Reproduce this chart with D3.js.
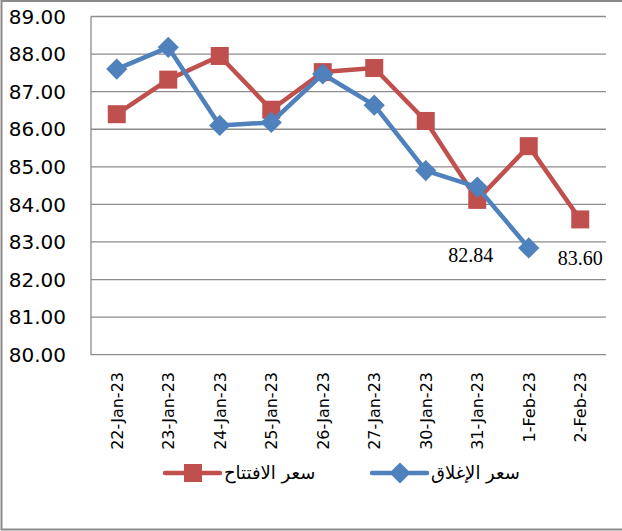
<!DOCTYPE html>
<html>
<head>
<meta charset="utf-8">
<script src="https://cdn.jsdelivr.net/npm/d3@7"></script>
<style>
  body { margin: 0; background: #fff; }
  svg { display: block; }
</style>
</head>
<body>
<svg width="622" height="531"></svg>
<script>
const dates = ["22-Jan-23", "23-Jan-23", "24-Jan-23", "25-Jan-23", "26-Jan-23",
               "27-Jan-23", "30-Jan-23", "31-Jan-23", "1-Feb-23", "2-Feb-23"];
const openPrice = [86.40, 87.32, 87.95, 86.52, 87.52, 87.63, 86.22, 84.12, 85.55, 83.60];
const closePrice = [87.60, 88.18, 86.10, 86.18, 87.47, 86.64, 84.90, 84.46, 82.84, null];
const yTicks = [80, 81, 82, 83, 84, 85, 86, 87, 88, 89];
const seriesNames = ["سعر الافتتاح", "سعر الإغلاق"];

function drawTheGraph(){
    const svg = d3.select("svg");
    const left = 91, right = 606, top = 16.5, bottom = 354.7;

    // outer frame (right side runs off the picture)
    svg.append("path")
       .attr("d", "M622,1 H1.5 V529.5 H622")
       .attr("fill", "none")
       .attr("stroke", "#8a8a8a")
       .attr("stroke-width", 2);

    const x = d3.scaleBand().domain(dates).range([left, right]);
    const y = d3.scaleLinear().domain([80, 89]).range([bottom, top]);
    const cx = d => x(d) + x.bandwidth() / 2;

    // gridlines
    svg.append("g")
       .selectAll("line")
       .data(yTicks.slice(1))
       .enter().append("line")
       .attr("x1", left).attr("x2", right)
       .attr("y1", d => y(d)).attr("y2", d => y(d))
       .attr("stroke", "#8c8c8c")
       .attr("stroke-width", 1.3);

    // axis lines
    svg.append("path")
       .attr("d", `M${left},${top} V${bottom} H${right}`)
       .attr("fill", "none")
       .attr("stroke", "#8c8c8c")
       .attr("stroke-width", 1.3);

    // y labels
    svg.append("g")
       .selectAll("text")
       .data(yTicks)
       .enter().append("text")
       .attr("x", 66)
       .attr("y", d => y(d))
       .attr("dy", "0.36em")
       .attr("text-anchor", "end")
       .style("font-family", "DejaVu Sans")
       .style("font-size", "20px")
       .attr("fill", "#000")
       .text(d => d.toFixed(2));

    // x labels
    svg.append("g")
       .selectAll("text")
       .data(dates)
       .enter().append("text")
       .attr("transform", d => `translate(${cx(d)},372) rotate(-90)`)
       .attr("dy", "0.36em")
       .attr("text-anchor", "end")
       .style("font-family", "DejaVu Sans")
       .style("font-size", "16px")
       .attr("fill", "#000")
       .text(d => d);

    const line = d3.line()
                   .defined(d => d.v != null)
                   .x(d => cx(d.date))
                   .y(d => y(d.v));

    const openData = dates.map((d, i) => ({ date: d, v: openPrice[i] }));
    const closeData = dates.map((d, i) => ({ date: d, v: closePrice[i] }));

    // open series (red squares)
    svg.append("path")
       .datum(openData)
       .attr("fill", "none")
       .attr("stroke", "#C0504D")
       .attr("stroke-width", 4.5)
       .attr("stroke-linejoin", "round")
       .attr("d", line);

    svg.append("g")
       .selectAll("rect")
       .data(openData)
       .enter().append("rect")
       .attr("x", d => cx(d.date) - 9)
       .attr("y", d => y(d.v) - 9)
       .attr("width", 18)
       .attr("height", 18)
       .attr("fill", "#C0504D");

    // close series (blue diamonds)
    svg.append("path")
       .datum(closeData)
       .attr("fill", "none")
       .attr("stroke", "#4F81BD")
       .attr("stroke-width", 4.5)
       .attr("stroke-linejoin", "round")
       .attr("d", line);

    svg.append("g")
       .selectAll("path")
       .data(closeData.filter(d => d.v != null))
       .enter().append("path")
       .attr("transform", d => `translate(${cx(d.date)},${y(d.v)}) rotate(45)`)
       .attr("d", "M-7.5,-7.5 H7.5 V7.5 H-7.5 Z")
       .attr("fill", "#4F81BD");

    // data labels
    const lastClose = closeData[8];
    svg.append("text")
       .attr("x", cx(lastClose.date) - 58)
       .attr("y", y(lastClose.v) + 14)
       .attr("text-anchor", "middle")
       .style("font-family", "Liberation Serif")
       .style("font-size", "20px")
       .text(lastClose.v.toFixed(2));

    const lastOpen = openData[9];
    svg.append("text")
       .attr("x", cx(lastOpen.date))
       .attr("y", y(lastOpen.v) + 46)
       .attr("text-anchor", "middle")
       .style("font-family", "Liberation Serif")
       .style("font-size", "20px")
       .text(lastOpen.v.toFixed(2));

    // legend
    const legend = svg.append("g").attr("class", "legend");
    const items = [
        { name: seriesNames[0], color: "#C0504D", x: 165, marker: "square" },
        { name: seriesNames[1], color: "#4F81BD", x: 372, marker: "diamond" }
    ];
    items.forEach(it => {
        legend.append("line")
              .attr("x1", it.x).attr("x2", it.x + 55)
              .attr("y1", 473).attr("y2", 473)
              .attr("stroke", it.color)
              .attr("stroke-width", 4.5)
              .attr("stroke-linecap", "round");
        if (it.marker === "square") {
            legend.append("rect")
                  .attr("x", it.x + 28 - 9).attr("y", 473 - 9)
                  .attr("width", 18).attr("height", 18)
                  .attr("fill", it.color);
        } else {
            legend.append("path")
                  .attr("transform", `translate(${it.x + 28},473) rotate(45)`)
                  .attr("d", "M-7.5,-7.5 H7.5 V7.5 H-7.5 Z")
                  .attr("fill", it.color);
        }
        legend.append("text")
              .attr("x", it.x + 59)
              .attr("y", 473)
              .attr("dy", "0.36em")
              .attr("text-anchor", "start")
              .style("font-family", "DejaVu Sans")
              .style("font-size", "18px")
              .text(it.name);
    });
}
drawTheGraph();
</script>
</body>
</html>
